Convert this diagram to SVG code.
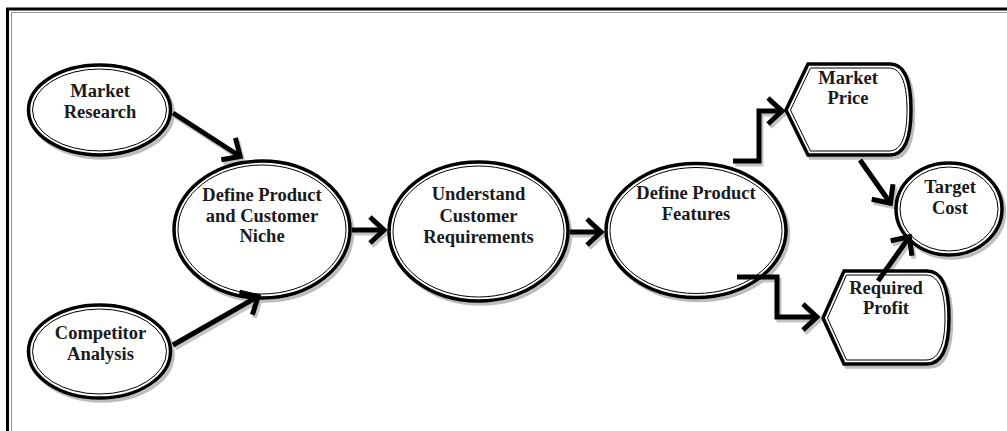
<svg xmlns="http://www.w3.org/2000/svg" width="1007" height="431" viewBox="0 0 1007 431">
<style>
.sh{fill:none;stroke:#bdbdbd;stroke-width:3.5}
.out{fill:#fff;stroke:#000;stroke-width:3.5}
.in{fill:none;stroke:#000;stroke-width:1}
.t{font-family:"Liberation Serif","Times New Roman",serif;font-weight:bold;font-size:18.5px;fill:#1a1a1a;text-anchor:middle}
.c{fill:none;stroke:#000;stroke-width:5;marker-end:url(#ah)}
.cs{fill:none;stroke:#c4c4c4;stroke-width:5;marker-end:url(#ahs)}
</style>
<defs>
<marker id="ah" markerUnits="userSpaceOnUse" viewBox="-22 -18 28 36" markerWidth="28" markerHeight="36" refX="0" refY="0" orient="auto">
<path d="M-15,-13 L-1,0 L-15,13" fill="none" stroke="#000" stroke-width="5"/>
</marker>
<marker id="ahs" markerUnits="userSpaceOnUse" viewBox="-22 -18 28 36" markerWidth="28" markerHeight="36" refX="0" refY="0" orient="auto">
<path d="M-15,-13 L-1,0 L-15,13" fill="none" stroke="#c4c4c4" stroke-width="5"/>
</marker>
</defs>
<rect width="1007" height="431" fill="#fff"/>
<g id="frame">
<path d="M11.5,431 V12.5 H1007" fill="none" stroke="#9a9a9a" stroke-width="1.2"/>
<path d="M7.5,431 V9 H1007" fill="none" stroke="#000" stroke-width="3"/>
</g>
<g id="connectors">
<g transform="translate(2,3)">
<path class="cs" d="M173,113 L241,157"/>
<path class="cs" d="M173,345 L259,296"/>
<path class="cs" d="M352,230 L385,230"/>
<path class="cs" d="M570,232 L602,232"/>
<path class="cs" d="M733,161 H759 V111 H783"/>
<path class="cs" d="M737,277 H777 V317 H818"/>
<path class="cs" d="M860,160 L891,204"/>
<path class="cs" d="M878,281 L910,236"/>
</g>
</g>
<g id="market-research">
<ellipse class="sh" cx="102" cy="113" rx="71" ry="45"/>
<ellipse class="out" cx="99.5" cy="110" rx="71" ry="45"/>
<ellipse class="in" cx="99.5" cy="110" rx="67" ry="41"/>
<text class="t" x="100" y="97">Market</text>
<text class="t" x="100" y="118">Research</text>
</g>
<g id="competitor-analysis">
<ellipse class="sh" cx="102" cy="354.5" rx="71" ry="46.5"/>
<ellipse class="out" cx="99.5" cy="351.5" rx="71" ry="46.5"/>
<ellipse class="in" cx="99.5" cy="351.5" rx="67" ry="42.5"/>
<text class="t" x="100.5" y="339">Competitor</text>
<text class="t" x="100.5" y="360">Analysis</text>
</g>
<g id="define-product-niche">
<ellipse class="sh" cx="264.5" cy="232.5" rx="88" ry="68.5"/>
<ellipse class="out" cx="262" cy="229.5" rx="88" ry="68.5"/>
<ellipse class="in" cx="262" cy="229.5" rx="84" ry="64.5"/>
<text class="t" x="262" y="201">Define Product</text>
<text class="t" x="262" y="221.5">and Customer</text>
<text class="t" x="262" y="242">Niche</text>
</g>
<g id="understand-requirements">
<ellipse class="sh" cx="481" cy="234.5" rx="89.5" ry="69.5"/>
<ellipse class="out" cx="478.5" cy="231.5" rx="89.5" ry="69.5"/>
<ellipse class="in" cx="478.5" cy="231.5" rx="85.5" ry="65.5"/>
<text class="t" x="478.5" y="200">Understand</text>
<text class="t" x="478.5" y="221.5">Customer</text>
<text class="t" x="478.5" y="243">Requirements</text>
</g>
<g id="define-features">
<ellipse class="sh" cx="698.5" cy="233.5" rx="90" ry="67"/>
<ellipse class="out" cx="696" cy="230.5" rx="90" ry="67"/>
<ellipse class="in" cx="696" cy="230.5" rx="86" ry="63"/>
<text class="t" x="696" y="199">Define Product</text>
<text class="t" x="696" y="220">Features</text>
</g>
<g id="market-price">
<path class="sh" transform="translate(2.5,3)" d="M786,110 L808,64 L890,64 C907,64 911,86 911,110 C911,134 907,155 890,155 L808,155 Z"/>
<path class="out" d="M786,110 L808,64 L890,64 C907,64 911,86 911,110 C911,134 907,155 890,155 L808,155 Z"/>
<path class="in" d="M790.5,110 L810.5,68 L889,68 C903,68 907,88 907,110 C907,132 903,151 889,151 L810.5,151 Z"/>
<text class="t" x="848" y="84">Market</text>
<text class="t" x="848" y="104">Price</text>
</g>
<g id="required-profit">
<path class="sh" transform="translate(2.5,3)" d="M823,318 L844,271 L927,271 C945,271 949,295 949,318 C949,341 945,364 927,364 L844,364 Z"/>
<path class="out" d="M823,318 L844,271 L927,271 C945,271 949,295 949,318 C949,341 945,364 927,364 L844,364 Z"/>
<path class="in" d="M827.5,318 L846.5,275 L926,275 C941,275 945,297 945,318 C945,339 941,360 926,360 L846.5,360 Z"/>
<text class="t" x="886" y="294">Required</text>
<text class="t" x="886" y="314">Profit</text>
</g>
<g id="target-cost">
<ellipse class="sh" cx="951.5" cy="212" rx="53" ry="46"/>
<ellipse class="out" cx="949" cy="209" rx="53" ry="46"/>
<ellipse class="in" cx="949" cy="209" rx="49" ry="42"/>
<text class="t" x="950" y="193">Target</text>
<text class="t" x="950" y="214">Cost</text>
</g>
<g id="connector-lines">
<path class="c" d="M173,113 L241,157"/>
<path class="c" d="M173,345 L259,296"/>
<path class="c" d="M352,230 L385,230"/>
<path class="c" d="M570,232 L602,232"/>
<path class="c" d="M733,161 H759 V111 H783"/>
<path class="c" d="M737,277 H777 V317 H818"/>
<path class="c" d="M860,160 L891,204"/>
<path class="c" d="M878,281 L910,236"/>
</g>
</svg>
